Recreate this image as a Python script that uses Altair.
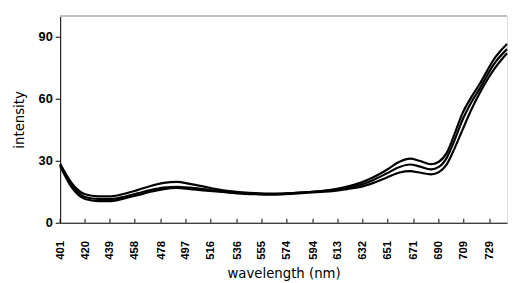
import altair as alt
import pandas as pd

wavelength = [401, 410, 420, 430, 440, 450, 460, 470, 480, 490, 500, 510, 520, 530,
              540, 550, 560, 570, 580, 590, 600, 610, 620, 630, 640, 650, 660, 668,
              675, 684, 690, 696, 702, 708, 715, 721, 733, 742]
top = [28.5, 19.0, 13.8, 12.8, 12.8, 14.0, 15.8, 17.8, 19.3, 19.8, 18.8, 17.6, 16.3, 15.3,
       14.7, 14.3, 14.1, 14.1, 14.5, 14.9, 15.3, 16.2, 17.5, 19.3, 22.0, 25.5, 29.5, 31.0,
       30.0, 28.3, 29.5, 33.8, 43.0, 52.9, 61.0, 67.0, 80.0, 86.5]
middle = [28.0, 18.0, 12.5, 11.5, 11.5, 12.6, 14.2, 15.8, 17.0, 17.4, 17.0, 16.3, 15.5, 14.8,
          14.3, 14.0, 13.9, 14.0, 14.4, 14.8, 15.2, 15.9, 16.9, 18.3, 20.7, 23.8, 27.0, 28.2,
          27.3, 25.8, 27.0, 31.4, 40.0, 49.7, 58.5, 64.8, 77.6, 84.0]
bottom = [27.5, 17.0, 11.5, 10.5, 10.5, 11.8, 13.3, 15.0, 16.3, 16.8, 16.3, 15.7, 15.2, 14.6,
          14.1, 13.8, 13.6, 13.7, 14.1, 14.5, 14.9, 15.4, 16.3, 17.3, 19.3, 21.8, 24.3, 25.0,
          24.3, 23.4, 24.5, 28.2, 36.0, 44.9, 55.0, 62.5, 75.0, 82.0]
x_ticks = [401, 420, 439, 458, 478, 497, 516, 536, 555, 574, 594, 613, 632, 651, 671,
           690, 709, 729]
y_ticks = [0, 30, 60, 90]

rows = []
for name, vals in [("top", top), ("middle", middle), ("bottom", bottom)]:
    for w, v in zip(wavelength, vals):
        rows.append({"series": name, "wavelength": w, "intensity": v})
df = pd.DataFrame(rows)

xscale = alt.Scale(domain=[401, 742], nice=False, zero=False)
yscale = alt.Scale(domain=[0, 100], nice=False)

x_axis = alt.Axis(values=x_ticks, title="wavelength (nm)", labelAngle=270,
                  labelAlign="right", labelBaseline="middle", labelPadding=18,
                  tickSize=0, grid=False, domainColor="black",
                  labelFont="Liberation Sans", labelFontWeight="bold",
                  labelFontSize=11.5, labelColor="black",
                  titleFont="DejaVu Sans", titleFontWeight="normal",
                  titleFontSize=13.5, titleColor="black", titlePadding=7,
                  labelFlush=False, labelOverlap=False, labelBound=False,
                  labelSeparation=0)
y_axis = alt.Axis(values=y_ticks, title="intensity", grid=False,
                  domainColor="black", tickColor="black", tickSize=5,
                  labelPadding=3, labelFont="Liberation Sans",
                  labelFontWeight="bold", labelFontSize=13, labelColor="black",
                  titleFont="DejaVu Sans", titleFontWeight="normal",
                  titleFontSize=13.5, titleColor="black", titlePadding=12)

lines = alt.Chart(df).mark_line(color="black", strokeWidth=2.2, interpolate="monotone").encode(
    x=alt.X("wavelength:Q", scale=xscale, axis=x_axis),
    y=alt.Y("intensity:Q", scale=yscale, axis=y_axis),
    detail="series:N",
)

tick_df = pd.DataFrame({"t": x_ticks})
ticks = alt.Chart(tick_df).mark_rule(color="black", strokeWidth=1).encode(
    x=alt.X("t:Q", scale=xscale, axis=x_axis),
    y=alt.value(206),
    y2=alt.value(210),
)

top_border = alt.Chart(pd.DataFrame({"b": [100]})).mark_rule(color="#bdbdbd", strokeWidth=2).encode(
    y=alt.Y("b:Q", scale=yscale, axis=y_axis),
)

chart = alt.layer(lines, ticks, top_border).properties(
    width=454, height=210,
    autosize=alt.AutoSizeParams(type="none"),
    padding={"left": 53, "top": 6, "right": 1, "bottom": 58},
).configure_view(stroke=None).configure(background="white").configure_axisX(labelOverlap=False)

chart.save("out.html", embed_options={"renderer": "svg", "actions": False})
